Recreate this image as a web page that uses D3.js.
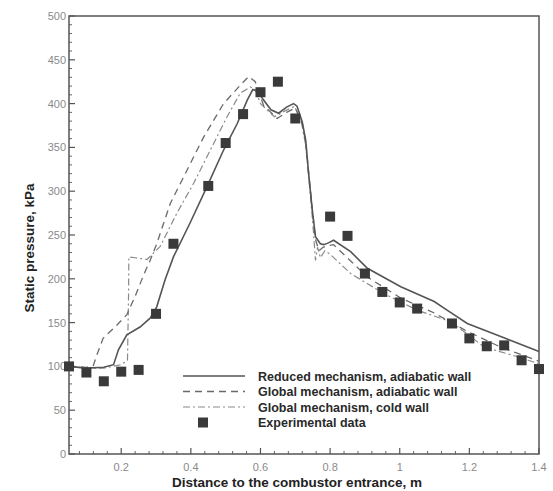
<!DOCTYPE html>
<meta charset="utf-8">
<style>
    body { margin: 0; background: #fff; }
    .tick-label { font: 11px "Liberation Sans", Arial, sans-serif; fill: #8a8a8a; }
    .axis-title { font: bold 13.5px "Liberation Sans", Arial, sans-serif; fill: #222; }
    .legend-text { font: bold 12.5px "Liberation Sans", Arial, sans-serif; fill: #2a2a2a; }
</style>
<body>
    <script src="https://d3js.org/d3.v7.min.js"></script>
    <script>
        // Experimental data
        var expX = [0.05, 0.1, 0.15, 0.2, 0.25, 0.3, 0.35, 0.45, 0.5, 0.55, 0.6, 0.65, 0.7,
            0.8, 0.85, 0.9, 0.95, 1.0, 1.05, 1.15, 1.2, 1.25, 1.3, 1.35, 1.4];
        var expY = [100, 93, 83, 94, 96, 160, 240, 306, 355, 388, 413, 425, 383,
            271, 249, 206, 185, 173, 166, 149, 132, 123, 124, 107, 97];

        // Reduced mechanism, adiabatic wall
        var redX = [0.05, 0.1, 0.15, 0.178, 0.192, 0.216, 0.254, 0.283, 0.302, 0.326, 0.35, 0.398,
            0.446, 0.494, 0.533, 0.562, 0.578, 0.592, 0.609, 0.63, 0.652, 0.675, 0.695, 0.705, 0.72,
            0.73, 0.739, 0.749, 0.758, 0.772, 0.782, 0.795, 0.81, 0.859, 0.907, 1.003, 1.099, 1.137,
            1.194, 1.29, 1.4];
        var redY = [100, 98, 99, 102, 119, 136, 145, 155, 168, 199, 225, 264,
            305, 347, 377, 404, 416, 414, 404, 393, 389, 396, 400, 397, 379,
            358, 317, 278, 248, 240, 239, 241, 244, 231, 212, 191, 174, 164,
            149, 134, 117];

        // Global mechanism, adiabatic wall
        var gadX = [0.05, 0.1, 0.12, 0.128, 0.148, 0.187, 0.216, 0.24, 0.264, 0.283, 0.302, 0.341,
            0.389, 0.437, 0.494, 0.542, 0.566, 0.585, 0.609, 0.648, 0.675, 0.7, 0.72, 0.73, 0.74,
            0.75, 0.758, 0.768, 0.78, 0.795, 0.81, 0.907, 1.003, 1.099, 1.194, 1.29, 1.4];
        var gadY = [100, 99, 101, 111, 132, 147, 159, 180, 204, 221, 240, 286,
            324, 362, 400, 421, 431, 425, 398, 383, 390, 395, 378, 355, 315,
            275, 245, 232, 236, 238, 239, 202, 178, 161, 140, 122, 106];

        // Global mechanism, cold wall
        var gcwX = [0.05, 0.1, 0.15, 0.2, 0.218, 0.221, 0.222, 0.24, 0.274, 0.312, 0.36, 0.408,
            0.456, 0.504, 0.542, 0.571, 0.585, 0.6, 0.64, 0.672, 0.698, 0.718, 0.73, 0.74, 0.75,
            0.758, 0.764, 0.772, 0.785, 0.8, 0.859, 0.955, 1.051, 1.147, 1.243, 1.339, 1.4];
        var gcwY = [100, 98, 98, 102, 107, 180, 225, 224, 222, 237, 275, 309,
            347, 385, 412, 419, 416, 400, 385, 392, 397, 378, 352, 310, 265,
            221, 236, 224, 232, 228, 206, 183, 164, 151, 122, 111, 103];

        var xTicks = [0.2, 0.4, 0.6, 0.8, 1, 1.2, 1.4];
        var yTicks = [0, 50, 100, 150, 200, 250, 300, 350, 400, 450, 500];

        var legendLabels = ["Reduced mechanism, adiabatic wall", "Global mechanism, adiabatic wall",
            "Global mechanism, cold wall", "Experimental data"];

        var width = 553, height = 491;
        var margin = { top: 16, right: 14, bottom: 37, left: 69 };

        var svg = d3.select("body").append("svg")
            .attr("width", width)
            .attr("height", height);

        var x = d3.scaleLinear().domain([0.05, 1.4]).range([margin.left, width - margin.right]);
        var y = d3.scaleLinear().domain([0, 500]).range([height - margin.bottom, margin.top]);

        // Minor + major ticks pointing inward
        var g = svg.append("g");
        var xMinor = d3.range(0.08, 1.4, 0.04).filter(v => Math.abs(v * 5 - Math.round(v * 5)) > 1e-6);
        var yMinor = d3.range(10, 500, 10).filter(v => v % 50 != 0);
        g.selectAll(".xminor").data(xMinor).enter().append("line")
            .attr("x1", d => x(d)).attr("x2", d => x(d))
            .attr("y1", y(0)).attr("y2", y(0) - 3)
            .attr("stroke", "#666").attr("stroke-width", 1);
        g.selectAll(".xmajor").data(xTicks).enter().append("line")
            .attr("x1", d => x(d)).attr("x2", d => x(d))
            .attr("y1", y(0)).attr("y2", y(0) - 6)
            .attr("stroke", "#555").attr("stroke-width", 1.2);
        g.selectAll(".yminor").data(yMinor).enter().append("line")
            .attr("x1", x.range()[0]).attr("x2", x.range()[0] + 3)
            .attr("y1", d => y(d)).attr("y2", d => y(d))
            .attr("stroke", "#666").attr("stroke-width", 1);
        g.selectAll(".ymajor").data(yTicks).enter().append("line")
            .attr("x1", x.range()[0]).attr("x2", x.range()[0] + 6)
            .attr("y1", d => y(d)).attr("y2", d => y(d))
            .attr("stroke", "#555").attr("stroke-width", 1.2);

        // Frame
        svg.append("rect")
            .attr("x", x.range()[0]).attr("y", y.range()[1])
            .attr("width", x.range()[1] - x.range()[0])
            .attr("height", y.range()[0] - y.range()[1])
            .attr("fill", "none").attr("stroke", "#555").attr("stroke-width", 1.5);

        // Tick labels
        svg.selectAll(".xl").data(xTicks).enter().append("text")
            .attr("class", "tick-label")
            .attr("x", d => x(d)).attr("y", y(0) + 17)
            .attr("text-anchor", "middle")
            .text(d => d);
        svg.selectAll(".yl").data(yTicks).enter().append("text")
            .attr("class", "tick-label")
            .attr("x", x.range()[0] - 3).attr("y", d => y(d) + 4)
            .attr("text-anchor", "end")
            .text(d => d);

        // Axis titles
        svg.append("text").attr("class", "axis-title")
            .attr("x", 297).attr("y", 487)
            .attr("text-anchor", "middle")
            .text("Distance to the combustor entrance, m");
        svg.append("text").attr("class", "axis-title")
            .attr("transform", "translate(34,248) rotate(-90)")
            .attr("text-anchor", "middle")
            .text("Static pressure, kPa");

        // Curves
        var line = d3.line().x(d => x(d[0])).y(d => y(d[1])).curve(d3.curveMonotoneX);
        var lineLin = d3.line().x(d => x(d[0])).y(d => y(d[1]));
        var series = [
            { xs: gcwX, ys: gcwY, dash: "7,3,2,3", color: "#8a8a8a", w: 1.2 },
            { xs: gadX, ys: gadY, dash: "7,5", color: "#6a6a6a", w: 1.3 },
            { xs: redX, ys: redY, dash: null, color: "#555", w: 1.6 }
        ];
        series.forEach(function (s) {
            var pts = s.xs.map((v, i) => [v, s.ys[i]]);
            svg.append("path")
                .attr("d", lineLin(pts))
                .attr("fill", "none")
                .attr("stroke", s.color)
                .attr("stroke-width", s.w)
                .attr("stroke-dasharray", s.dash);
        });

        // Experimental squares
        var sq = 10;
        svg.selectAll(".exp").data(expX).enter().append("rect")
            .attr("x", d => x(d) - sq / 2)
            .attr("y", (d, i) => y(expY[i]) - sq / 2)
            .attr("width", sq).attr("height", sq)
            .attr("fill", "#3a3a3a");

        // Legend
        var lx0 = 183, lx1 = 245, tx = 258, ly = 376, lstep = 15.5;
        var legStyles = [series[2], series[1], series[0]];
        legStyles.forEach(function (s, i) {
            svg.append("line")
                .attr("x1", lx0).attr("x2", lx1)
                .attr("y1", ly + i * lstep).attr("y2", ly + i * lstep)
                .attr("stroke", s.color).attr("stroke-width", s.w)
                .attr("stroke-dasharray", s.dash);
        });
        svg.append("rect")
            .attr("x", 203 - sq / 2).attr("y", ly + 3 * lstep - sq / 2)
            .attr("width", sq).attr("height", sq).attr("fill", "#3a3a3a");
        svg.selectAll(".lt").data(legendLabels).enter().append("text")
            .attr("class", "legend-text")
            .attr("x", tx).attr("y", (d, i) => ly + i * lstep + 4.5)
            .text(d => d);
    </script>
</body>
